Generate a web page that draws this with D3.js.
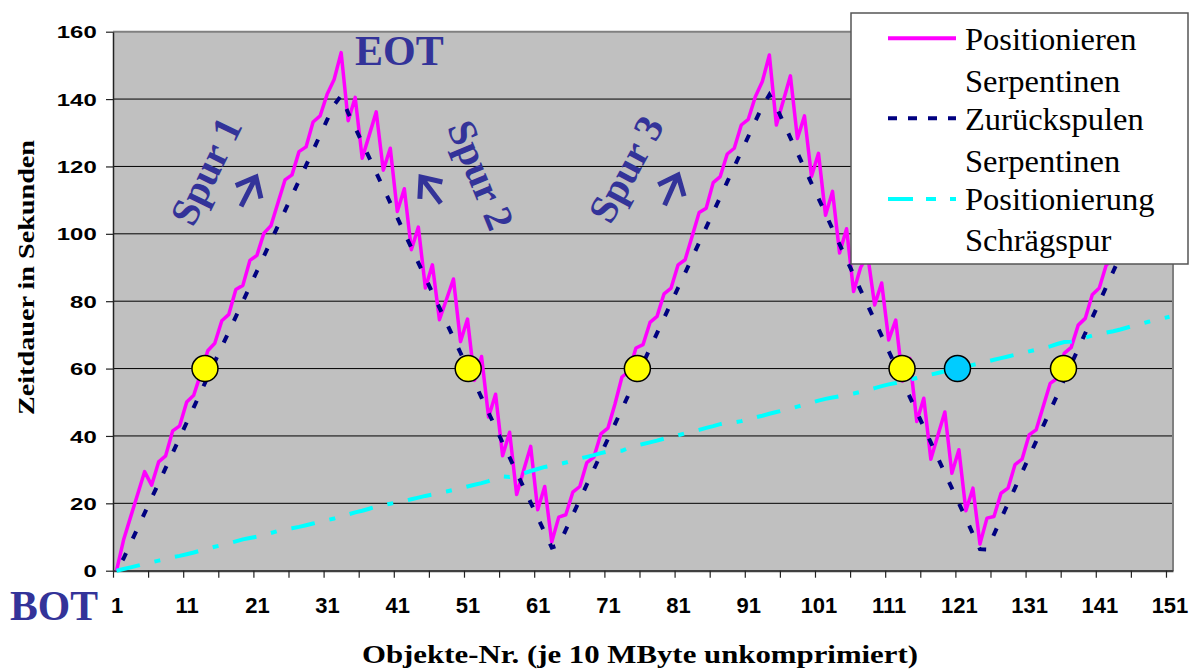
<!DOCTYPE html>
<html>
<head>
<meta charset="utf-8">
<script src="https://cdn.jsdelivr.net/npm/d3@7"></script>
<style>
  body { margin: 0; background: #fff; }
  svg { display: block; }
</style>
</head>
<body>
<svg id="chart" width="1196" height="671"></svg>
<script>
// Object numbers (1 .. 151), each object = 10 MByte uncompressed
const objects = d3.range(1, 152);

// Positioning time on a serpentine tape (seconds)
const positionieren = [
  0, 9.1, 15.9, 22.6, 29.4, 25.4, 32.3, 34.1, 41.5, 43.0,
  50.1, 52.1, 58.5, 65.3, 67.5, 74.2, 76.1, 83.5, 84.7, 92.1,
  93.6, 100.2, 102.4, 109.2, 116.0, 117.5, 124.4, 125.8, 133.2, 135.0,
  141.4, 145.8, 153.8, 133.6, 140.5, 122.4, 129.3, 136.2, 118.9, 125.4,
  106.6, 113.4, 95.3, 102.0, 83.9, 90.8, 74.5, 80.5, 86.6, 68.0,
  74.7, 56.5, 63.6, 45.6, 52.4, 34.1, 41.1, 22.6, 29.8, 36.9,
  18.1, 25.0, 8.5, 15.9, 16.6, 23.3, 25.0, 32.1, 33.7, 40.6,
  42.3, 49.4, 57.5, 59.2, 66.1, 67.1, 73.7, 75.5, 82.2, 83.9,
  90.8, 92.3, 99.3, 106.3, 107.6, 115.2, 117.0, 123.7, 125.4, 132.3,
  134.0, 140.7, 145.2, 153.1, 132.3, 139.6, 146.9, 128.3, 135.0, 117.0,
  123.9, 105.5, 112.6, 94.3, 101.5, 82.9, 90.0, 93.7, 78.9, 85.4,
  68.5, 74.4, 56.3, 63.0, 44.3, 51.2, 33.1, 40.1, 47.1, 28.9,
  35.9, 17.8, 24.5, 7.9, 15.6, 16.1, 23.0, 24.5, 31.5, 33.1,
  40.3, 41.8, 48.7, 55.6, 57.1, 64.5, 66.3, 72.9, 74.9, 81.9,
  83.9, 90.8, 92.3, 99.3, 100.8, 107.8, 109.3, 116.3, 117.8, 124.8,
  126.3
];

// Rewind time on a serpentine tape (seconds)
const zurueckspulen = [
  0, 3.6, 8.1, 12.6, 17.1, 21.6, 26.0, 30.5, 35.0, 39.5,
  44.0, 48.5, 53.0, 57.5, 62.0, 66.5, 70.9, 75.4, 79.9, 84.4,
  88.9, 93.4, 97.9, 102.4, 106.9, 111.4, 115.8, 120.3, 124.8, 129.3,
  133.8, 138.3, 141.0, 135.9, 131.5, 127.0, 122.6, 118.1, 113.7, 109.2,
  104.8, 100.3, 95.9, 91.4, 87.0, 82.5, 78.1, 73.6, 69.2, 64.7,
  60.3, 55.8, 51.4, 46.9, 42.5, 38.0, 33.6, 29.1, 24.7, 20.2,
  15.8, 11.3, 6.9, 7.6, 12.1, 16.6, 21.1, 25.6, 30.1, 34.6,
  39.1, 43.5, 48.0, 52.5, 57.0, 61.5, 66.0, 70.5, 75.0, 79.5,
  84.0, 88.4, 92.9, 97.4, 101.9, 106.4, 110.9, 115.4, 119.9, 124.4,
  128.9, 133.4, 137.8, 141.3, 137.6, 133.1, 128.5, 124.0, 119.5, 115.0,
  110.5, 106.0, 101.4, 96.9, 92.4, 87.9, 83.3, 78.8, 74.3, 69.7,
  65.2, 60.7, 56.2, 51.6, 47.1, 42.6, 38.1, 33.5, 29.0, 24.5,
  20.0, 15.5, 10.9, 6.4, 6.3, 10.8, 15.4, 20.0, 24.6, 29.2,
  33.8, 38.4, 42.9, 47.5, 52.1, 56.7, 61.3, 65.9, 70.5, 75.1,
  79.7, 84.3, 88.9, 93.5, 98.0, 102.6, 107.2, 111.8, 116.4, 121.0,
  125.6
];

// Positioning time on a helical-scan tape (seconds)
const schraegspur = [
  0.0, 0.5, 1.0, 1.5, 2.0, 2.5, 3.0, 3.5, 4.0, 4.4,
  4.9, 5.4, 6.0, 6.6, 7.1, 7.6, 8.1, 8.7, 9.3, 9.7,
  10.1, 10.6, 11.2, 11.8, 12.3, 12.6, 13.0, 13.5, 14.0, 14.5,
  15.0, 15.5, 16.1, 16.7, 17.3, 17.8, 18.4, 19.0, 19.5, 19.9,
  20.3, 20.7, 21.2, 21.7, 22.2, 22.6, 23.1, 23.5, 24.0, 24.5,
  25.0, 25.5, 26.0, 26.6, 27.4, 28.0, 27.8, 28.2, 28.9, 29.6,
  30.2, 30.8, 31.2, 31.6, 32.1, 32.7, 33.3, 33.8, 34.3, 34.9,
  35.4, 35.5, 35.6, 36.5, 37.1, 37.6, 38.1, 38.6, 39.2, 39.7,
  40.2, 40.8, 41.3, 41.8, 42.4, 42.9, 43.5, 44.0, 44.0, 44.4,
  45.0, 45.5, 46.0, 46.6, 47.1, 47.6, 48.1, 48.7, 49.3, 49.9,
  50.5, 51.0, 51.4, 51.8, 52.2, 52.6, 53.1, 53.6, 54.2, 54.8,
  55.3, 55.7, 56.2, 56.7, 57.2, 57.7, 58.2, 58.7, 59.2, 59.7,
  60.2, 60.6, 61.1, 61.6, 62.1, 62.6, 63.1, 63.6, 64.1, 64.6,
  65.1, 65.6, 66.1, 66.6, 67.3, 67.9, 68.0, 68.6, 69.2, 69.8,
  70.3, 70.7, 71.1, 71.6, 72.2, 72.8, 73.3, 73.9, 74.4, 74.9,
  75.4
];

// 60-second markers: serpentine (yellow) and helical scan (blue)
const serpentineMarks = [13.6, 51.1, 75.2, 112.9, 135.9];
const helicalMarks = [120.8];
const markTime = 60;

// Axis ticks and labels
const yTicks = [0, 20, 40, 60, 80, 100, 120, 140, 160];
const xLabels = [1, 11, 21, 31, 41, 51, 61, 71, 81, 91, 101, 111, 121, 131, 141, 151];
const xTickMarks = [0.5, 5.5, 10.5, 15.5, 20.5, 25.5, 30.5, 35.5, 40.5, 45.5, 50.5, 55.5,
  60.5, 65.5, 70.5, 75.5, 80.5, 85.5, 90.5, 95.5, 100.5, 105.5, 110.5, 115.5, 120.5,
  125.5, 130.5, 135.5, 140.5, 145.5, 150.5];

const legendLabels = ["Positionieren", "Serpentinen", "Zurückspulen", "Serpentinen", "Positionierung", "Schrägspur"];

const SANS = "'Liberation Sans', Arial, sans-serif";
const SERIF = "'Liberation Serif', 'Times New Roman', serif";
const INK = "#333399";

const svg = d3.select("#chart");

const left = 113, right = 1173;
const x = d3.scaleLinear().domain([0.5, 151.5]).range([left, right]);
const y = d3.scaleLinear().domain([0, 160]).range([570.7, 31.7]);

// plot area
svg.append("rect")
  .attr("x", left).attr("y", y(160))
  .attr("width", right - left).attr("height", y(0) - y(160))
  .attr("fill", "#C0C0C0");

// horizontal gridlines
svg.append("g").selectAll("line")
  .data(yTicks.filter(d => d > 0 && d < 160))
  .join("line")
  .attr("x1", left).attr("x2", right)
  .attr("y1", d => y(d)).attr("y2", d => y(d))
  .attr("stroke", "#000").attr("stroke-width", 1);

// plot border (top / right)
svg.append("path")
  .attr("d", `M${left},${y(160)}H${right}V${y(0)}`)
  .attr("fill", "none").attr("stroke", "#808080").attr("stroke-width", 2);

// y axis
const yAxis = svg.append("g")
  .attr("transform", `translate(${left},0)`)
  .call(d3.axisLeft(y).tickValues(yTicks).tickSize(7).tickSizeOuter(0).tickPadding(9.3));
yAxis.select(".domain").attr("stroke", "#222").attr("stroke-width", 1.5);
yAxis.selectAll(".tick line").attr("stroke", "#222").attr("stroke-width", 1.2);
yAxis.selectAll(".tick text")
  .attr("font-family", SANS).attr("font-weight", "bold").attr("font-size", 17)
  .attr("fill", "#000").attr("dy", "0.36em")
  .attr("textLength", d => String(d).length * 13.3)
  .attr("lengthAdjust", "spacingAndGlyphs");

// x axis: tick marks every 5 objects
const xAxis = svg.append("g")
  .attr("transform", `translate(0,${y(0)})`)
  .call(d3.axisBottom(x).tickValues(xTickMarks).tickSize(7).tickSizeOuter(0).tickFormat(""));
xAxis.select(".domain").attr("stroke", "#404040").attr("stroke-width", 2.2);
xAxis.selectAll(".tick line").attr("stroke", "#222").attr("stroke-width", 1.2);

// x axis: labels every 10 objects
const xLab = svg.append("g")
  .attr("transform", `translate(0,${y(0)})`)
  .call(d3.axisBottom(x).tickValues(xLabels).tickSize(0).tickFormat(d3.format("d")));
xLab.select(".domain").remove();
xLab.selectAll(".tick text")
  .attr("font-family", SANS).attr("font-weight", "bold").attr("font-size", 22)
  .attr("fill", "#000").attr("y", 613 - y(0)).attr("dy", 0);

// axis titles
svg.append("text")
  .attr("transform", "translate(33.5,277.5) rotate(-90)")
  .attr("text-anchor", "middle")
  .attr("font-family", SERIF).attr("font-weight", "bold").attr("font-size", 23)
  .attr("textLength", 275).attr("lengthAdjust", "spacingAndGlyphs")
  .text("Zeitdauer in Sekunden");

svg.append("text")
  .attr("x", 640).attr("y", 663)
  .attr("text-anchor", "middle")
  .attr("font-family", SERIF).attr("font-weight", "bold").attr("font-size", 25)
  .attr("textLength", 556).attr("lengthAdjust", "spacingAndGlyphs")
  .text("Objekte-Nr. (je 10 MByte unkomprimiert)");

// series lines
const line = d3.line()
  .x((d, i) => x(objects[i]))
  .y(d => y(d));

svg.append("path")
  .datum(positionieren)
  .attr("d", line)
  .attr("fill", "none").attr("stroke", "#FF00FF").attr("stroke-width", 3.5)
  .attr("stroke-linejoin", "round");

svg.append("path")
  .datum(zurueckspulen)
  .attr("d", line)
  .attr("fill", "none").attr("stroke", "#000080").attr("stroke-width", 4)
  .attr("stroke-dasharray", "8,16").attr("stroke-dashoffset", 12);

svg.append("path")
  .datum(schraegspur)
  .attr("d", line)
  .attr("fill", "none").attr("stroke", "#00FFFF").attr("stroke-width", 4)
  .attr("stroke-dasharray", "24,15,6,15");

// 60 s markers
svg.append("g").selectAll("circle")
  .data(serpentineMarks)
  .join("circle")
  .attr("cx", d => x(d)).attr("cy", y(markTime)).attr("r", 13)
  .attr("fill", "#FFFF00").attr("stroke", "#000").attr("stroke-width", 1.5);

svg.append("g").selectAll("circle")
  .data(helicalMarks)
  .join("circle")
  .attr("cx", d => x(d)).attr("cy", y(markTime)).attr("r", 13)
  .attr("fill", "#00CCFF").attr("stroke", "#000").attr("stroke-width", 1.5);

// track annotations
function note(txt, cx, cy, angle) {
  svg.append("text")
    .attr("transform", `translate(${cx},${cy}) rotate(${angle})`)
    .attr("text-anchor", "middle").attr("dominant-baseline", "central")
    .attr("font-family", SERIF).attr("font-weight", "bold").attr("font-size", 40)
    .attr("fill", INK)
    .text(txt);
}
note("Spur 1", 206, 171, -64);
note("Spur 2", 481, 175, 67.6);
note("Spur 3", 626, 169, -61.6);

function arrow(tx, ty, angle) {
  const a = angle * Math.PI / 180, b = a + Math.PI, w = 40 * Math.PI / 180;
  const sx = tx + 33 * Math.cos(b), sy = ty + 33 * Math.sin(b);
  const ax1 = tx + 22 * Math.cos(b - w), ay1 = ty + 22 * Math.sin(b - w);
  const ax2 = tx + 22 * Math.cos(b + w), ay2 = ty + 22 * Math.sin(b + w);
  svg.append("path")
    .attr("d", `M${sx},${sy}L${tx},${ty}M${ax1},${ay1}L${tx},${ty}L${ax2},${ay2}`)
    .attr("fill", "none").attr("stroke", INK).attr("stroke-width", 5)
    .attr("stroke-linejoin", "miter");
}
arrow(256, 177, -63);
arrow(421, 177, -127);
arrow(678, 175, -66);

svg.append("text")
  .attr("x", 355).attr("y", 65)
  .attr("font-family", SERIF).attr("font-weight", "bold").attr("font-size", 42)
  .attr("fill", INK)
  .text("EOT");

svg.append("text")
  .attr("x", 10).attr("y", 620)
  .attr("font-family", SERIF).attr("font-weight", "bold").attr("font-size", 42)
  .attr("textLength", 88).attr("lengthAdjust", "spacingAndGlyphs")
  .attr("fill", INK)
  .text("BOT");

// legend
const lg = svg.append("g");
lg.append("rect")
  .attr("x", 851).attr("y", 13).attr("width", 337).attr("height", 251)
  .attr("fill", "#fff").attr("stroke", "#555").attr("stroke-width", 1.5);

const baselines = [50, 91.7, 130, 171.7, 210, 250.7];
lg.selectAll("text")
  .data(legendLabels)
  .join("text")
  .attr("x", 965).attr("y", (d, i) => baselines[i])
  .attr("font-family", SERIF).attr("font-size", 32.5).attr("fill", "#000")
  .text(d => d);

const samples = [
  { y: 38.3, color: "#FF00FF", dash: null, w: 4 },
  { y: 118.3, color: "#000080", dash: "9,11", w: 4 },
  { y: 199, color: "#00FFFF", dash: "25,13,10,14", w: 4 }
];
lg.selectAll("line")
  .data(samples)
  .join("line")
  .attr("x1", 888).attr("x2", 956)
  .attr("y1", d => d.y).attr("y2", d => d.y)
  .attr("stroke", d => d.color).attr("stroke-width", d => d.w)
  .attr("stroke-dasharray", d => d.dash);
</script>
</body>
</html>
